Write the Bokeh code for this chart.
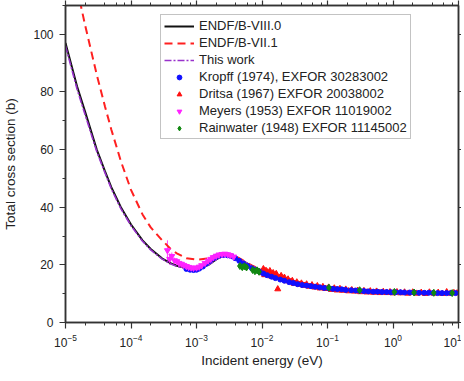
from bokeh.plotting import figure
from bokeh.models import (LogAxis, LinearAxis, LogTicker, SingleIntervalTicker,
                          Legend, LegendItem, ColumnDataSource, Whisker, Range1d,
                          CustomJSTickFormatter)
from bokeh.embed import file_html
from bokeh.resources import INLINE

# ---------------- data ----------------
e_eval = [1e-5, 1.5e-5, 2e-5, 3e-5, 4e-5, 5e-5, 7e-5, 1e-4, 1.5e-4, 2e-4, 3e-4, 4e-4,
          5e-4, 7e-4, 1e-3, 1.5e-3, 2e-3, 2.5e-3, 3e-3, 3.5e-3, 4e-3, 5e-3, 7e-3, 1e-2,
          1.5e-2, 2e-2, 3e-2, 5e-2, 7e-2, 1e-1, 2e-1, 3e-1, 5e-1, 1, 3, 10]
endf80 = [97, 82, 73, 60, 52.5, 47, 40, 34, 28.5, 25.5, 22.2, 20.6, 19.7, 18.9, 18.6,
          19.9, 21.9, 23.1, 23.5, 23.3, 22.8, 21.5, 19.6, 18.0, 16.6, 15.6, 14.5, 13.3,
          12.7, 12.3, 11.6, 11.3, 10.9, 10.6, 10.4, 10.2]
this_work = [96, 81, 72, 59.3, 52, 46.4, 39.5, 33.6, 28.2, 25.2, 22.0, 20.4, 19.5, 18.7,
             18.5, 19.8, 21.8, 23.0, 23.5, 23.3, 22.8, 21.5, 19.6, 18.0, 16.6, 15.6, 14.5,
             13.3, 12.7, 12.3, 11.6, 11.3, 10.9, 10.6, 10.4, 10.2]

e_71 = [1.5e-5, 2e-5, 3e-5, 4e-5, 5e-5, 7e-5, 1e-4, 1.5e-4, 2e-4, 3e-4, 4e-4, 5e-4, 7e-4,
        1e-3, 1.5e-3, 2e-3, 2.5e-3, 3e-3, 3.5e-3, 4e-3, 5e-3, 7e-3, 1e-2, 1.5e-2, 2e-2,
        3e-2, 5e-2, 7e-2, 1e-1, 2e-1, 3e-1, 5e-1, 1, 3, 10]
endf71 = [116, 103, 86, 75, 67, 56, 46, 37.5, 33, 28.5, 25.6, 24.0, 22.3, 21.8, 22.2,
          23.0, 23.5, 23.6, 23.4, 22.9, 21.7, 19.8, 18.1, 16.7, 15.7, 14.6, 13.4, 12.8,
          12.4, 11.7, 11.4, 11.0, 10.7, 10.4, 10.2]

kropff_e = [7.0e-4, 8.0e-4, 9.0e-4, 1.0e-3, 1.1e-3, 1.25e-3, 1.4e-3, 1.6e-3, 1.8e-3,
            2.0e-3, 2.3e-3, 2.6e-3, 3.0e-3, 3.4e-3, 3.9e-3, 4.5e-3, 5.2e-3, 6.0e-3,
            7.0e-3, 8.0e-3, 9.2e-3, 1.05e-2, 1.2e-2, 1.4e-2, 1.6e-2, 1.9e-2, 2.2e-2,
            2.6e-2, 3.0e-2, 3.5e-2, 4.1e-2, 4.8e-2, 5.6e-2, 6.5e-2, 7.6e-2, 8.9e-2,
            0.104, 0.121, 0.141, 0.165, 0.19, 0.23, 0.27, 0.31, 0.36, 0.42, 0.5, 0.58,
            0.68, 0.8, 0.93, 1.1, 1.3, 1.5, 1.8, 2.1, 2.5, 3.0, 3.5, 4.1, 4.8, 5.6, 6.6,
            7.7, 9.0]
kropff_s = [18.6, 18.3, 18.2, 18.3, 18.7, 19.4, 20.4, 21.4, 22.3, 22.8, 23.3, 23.4, 23.3,
            23.0, 22.3, 21.4, 20.4, 19.6, 18.8, 18.2, 17.6, 17.0, 16.4, 15.9, 15.4, 14.9,
            14.5, 14.0, 13.7, 13.3, 13.0, 12.8, 12.6, 12.4, 12.2, 12.0, 11.9, 11.7, 11.6,
            11.5, 11.3, 11.2, 11.1, 11.0, 10.9, 10.8, 10.7, 10.7, 10.6, 10.6, 10.5, 10.5,
            10.5, 10.4, 10.4, 10.4, 10.3, 10.3, 10.3, 10.3, 10.2, 10.2, 10.2, 10.2, 10.2]

dritsa_e = [0.0100, 0.0105, 0.0110, 0.0115, 0.0120, 0.0126, 0.0132, 0.0140, 0.0148,
            0.0156, 0.0165, 0.0174, 0.0185, 0.0196, 0.0208, 0.022, 0.0235, 0.025, 0.027,
            0.029, 0.031, 0.034, 0.037, 0.040, 0.044, 0.048, 0.053, 0.058, 0.064, 0.070,
            0.077, 0.085, 0.094, 0.104, 0.115, 0.127, 0.14, 0.155, 0.17, 0.19, 0.21,
            0.235, 0.26, 0.29, 0.32, 0.36, 0.40, 0.45, 0.50, 0.56, 0.63, 0.71, 0.80, 0.90,
            1.0, 1.15, 1.3, 1.5, 1.7, 2.0, 2.3, 2.7, 3.1, 3.6, 4.2, 4.9, 5.7, 6.6, 7.5,
            8.5, 9.5]
dritsa_s = [17.2, 18.6, 16.5, 18.0, 17.5, 16.8, 17.9, 16.0, 17.2, 15.8, 16.9, 11.6, 15.5,
            16.2, 14.9, 15.6, 14.4, 15.0, 14.1, 14.5, 13.5, 14.0, 13.2, 13.6, 12.8, 13.3,
            12.5, 13.0, 12.2, 12.7, 11.9, 12.4, 11.7, 12.2, 11.4, 11.9, 11.2, 11.7, 11.1,
            11.5, 10.9, 11.3, 10.8, 11.1, 10.6, 11.0, 10.5, 10.9, 10.4, 10.8, 10.3, 10.7,
            10.3, 10.6, 10.2, 10.6, 10.2, 10.5, 10.1, 10.5, 10.1, 10.4, 10.0, 10.5, 10.1,
            10.4, 10.0, 10.6, 10.1, 10.3, 10.2]

meyers_e = [3.6e-4, 3.9e-4, 4.2e-4, 4.6e-4, 5.0e-4, 5.4e-4, 5.9e-4, 6.4e-4, 7.0e-4,
            7.6e-4, 8.3e-4, 9.0e-4, 1.0e-3, 1.1e-3, 1.2e-3, 1.35e-3, 1.5e-3, 1.65e-3,
            1.8e-3, 2.0e-3, 2.2e-3, 2.45e-3, 2.7e-3, 3.0e-3, 3.3e-3, 3.7e-3]
meyers_s = [25.0, 22.0, 23.0, 21.5, 21.2, 20.6, 20.3, 19.9, 19.5, 19.2, 19.0, 18.9, 19.0,
            19.3, 19.8, 20.6, 21.4, 22.0, 22.6, 23.1, 23.5, 23.7, 23.8, 23.6, 23.3, 22.8]
meyers_err = [3.5, 2.0, 1.3, 1.0, 0.9, 0.8, 0.7, 0.6, 0.5, 0.5, 0.5, 0.5, 0.5, 0.5, 0.5,
              0.5, 0.5, 0.5, 0.5, 0.5, 0.5, 0.5, 0.5, 0.5, 0.5, 0.5]

rain_e = [4.6e-3, 5.0e-3, 5.4e-3, 5.8e-3, 7.2e-3, 7.8e-3, 8.4e-3, 9.0e-3, 0.105, 0.31,
          1.05, 2.1, 4.2, 8.0]
rain_s = [19.6, 19.2, 19.5, 19.1, 18.2, 17.8, 18.1, 17.6, 12.1, 11.2, 10.6, 10.4, 10.3, 10.2]

labels = ["ENDF/B-VIII.0", "ENDF/B-VII.1", "This work",
          "Kropff (1974), EXFOR 30283002", "Dritsa (1967) EXFOR 20038002",
          "Meyers (1953) EXFOR 11019002", "Rainwater (1948) EXFOR 11145002"]

# ---------------- figure ----------------
FONT = "Liberation Sans"
TXT = "#222222"
AX = "#333333"

p = figure(frame_width=393, frame_height=317, x_axis_type="log",
           x_range=Range1d(1e-5, 10), y_range=Range1d(0, 110),
           output_backend="svg", toolbar_location=None,
           min_border_left=60, min_border_right=0, min_border_top=0, min_border_bottom=0,
           background_fill_color="white", border_fill_color="white")
p.grid.visible = False
p.outline_line_color = AX
p.outline_line_width = 1.5

def style_axis(ax, labels_on=True):
    ax.axis_line_color = AX
    ax.axis_line_width = 1.5
    ax.major_tick_line_color = AX
    ax.minor_tick_line_color = AX
    ax.major_tick_line_width = 1.2
    ax.minor_tick_line_width = 1.0
    ax.major_tick_out = 6
    ax.major_tick_in = 0
    ax.minor_tick_out = 3
    ax.minor_tick_in = 0
    ax.major_label_text_font = FONT
    ax.major_label_text_font_size = "12px"
    ax.major_label_text_color = TXT
    ax.axis_label_text_font = FONT
    ax.axis_label_text_font_size = "13.5px"
    ax.axis_label_text_font_style = "normal"
    ax.axis_label_text_color = TXT
    if not labels_on:
        ax.formatter = CustomJSTickFormatter(code="return ''")
        ax.major_label_standoff = 0
        ax.major_tick_out = 5

xa = p.xaxis[0]
xa.ticker = LogTicker(desired_num_ticks=7)
style_axis(xa)
xa.axis_label = "Incident energy (eV)"
xa.major_label_standoff = 5
xa.axis_label_standoff = 3

ya = p.yaxis[0]
ya.ticker = SingleIntervalTicker(interval=20, num_minor_ticks=2)
style_axis(ya)
ya.axis_label = "Total cross section (b)"
ya.major_label_standoff = 6
ya.axis_label_standoff = 12

top = LogAxis(ticker=LogTicker(desired_num_ticks=7))
style_axis(top, labels_on=False)
p.add_layout(top, "above")
right = LinearAxis(ticker=SingleIntervalTicker(interval=20, num_minor_ticks=2))
style_axis(right, labels_on=False)
right.major_tick_out = 3
right.minor_tick_out = 0
p.add_layout(right, "right")

# ---------------- lines ----------------
r80 = p.line(e_eval, endf80, line_color="#111111", line_width=2)
r71 = p.line(e_71, endf71, line_color="#FF2020", line_width=2, line_dash="8 5")
rtw = p.line(e_eval, this_work, line_color="#9932CC", line_width=1.6, line_dash="7 2 2 2")

# ---------------- data points ----------------
msrc = ColumnDataSource(dict(x=meyers_e, y=meyers_s,
                             lo=[s - e for s, e in zip(meyers_s, meyers_err)],
                             hi=[s + e for s, e in zip(meyers_s, meyers_err)]))
p.add_layout(Whisker(source=msrc, base="x", lower="lo", upper="hi", dimension="height",
                     line_color="#FF44FF", line_width=1,
                     upper_head=None, lower_head=None))

rdr = p.scatter(dritsa_e, dritsa_s, marker="triangle", size=6, color="#FF1010")
rkr = p.scatter(kropff_e, kropff_s, marker="circle", size=5, color="#1010FF")
rme = p.scatter("x", "y", source=msrc, marker="inverted_triangle", size=6, color="#FF22FF")
rra = p.scatter(rain_e, rain_s, marker="diamond", size=7, color="#118811")

legend = Legend(items=[LegendItem(label=l, renderers=[r]) for l, r in
                       zip(labels, [r80, r71, rtw, rkr, rdr, rme, rra])],
                location=(95, 183))
legend.label_text_font = FONT
legend.label_text_font_size = "13px"
legend.label_text_color = TXT
legend.label_height = 12
legend.glyph_height = 12
legend.glyph_width = 30
legend.spacing = 2
legend.padding = 3
legend.margin = 0
legend.label_standoff = 5
legend.border_line_color = "#888888"
legend.border_line_width = 1
legend.background_fill_alpha = 1
p.add_layout(legend, "center")

open("out.html", "w").write(file_html(p, INLINE))
